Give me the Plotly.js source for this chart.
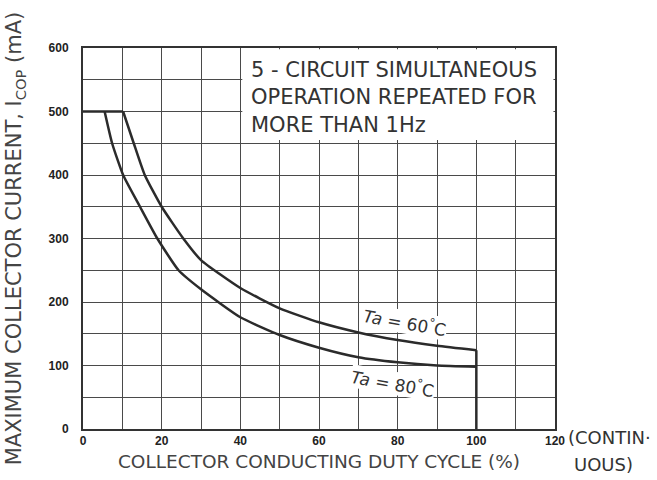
<!DOCTYPE html>
<html><head><meta charset="utf-8">
<script src="https://cdn.plot.ly/plotly-3.0.1.min.js"></script>
<style>body{margin:0;background:#fff}#c{width:657px;height:480px}</style>
</head><body><div id="c"></div>
<script>
// Data
const plateauCurrent = 500;
const dutyCycle60 = [10.2, 12.9, 15.7, 20, 25.5, 30, 40, 50, 60, 70, 80, 90, 100];
const current60   = [500, 450, 400, 350, 300, 266, 222, 190, 168, 152, 140, 131, 124];
const dutyCycle80 = [5.5, 7.4, 10.2, 14.5, 18.9, 24.3, 30, 40, 50, 60, 70, 80, 90, 100];
const current80   = [500, 450, 400, 350, 300, 250, 220, 176, 148, 128, 113, 105, 100, 98];
const xTickVals = [0, 20, 40, 60, 80, 100, 120];
const yTickVals = [0, 100, 200, 300, 400, 500, 600];
const labels = ['<i>Ta</i> = 60<sup>°</sup>C', '<i>Ta</i> = 80<sup>°</sup>C'];

const ink = '#2b2b2b';
const curveLine = {color: ink, width: 2.5, shape: 'spline', smoothing: 0.5};
const straight = {color: ink, width: 2.5};
const traces = [
  // shared 500 mA plateau
  {x: [0, dutyCycle60[0]], y: [plateauCurrent, plateauCurrent], mode: 'lines', line: straight, hoverinfo: 'skip'},
  {x: dutyCycle60, y: current60, mode: 'lines', line: curveLine, name: 'Ta = 60°C', hoverinfo: 'skip'},
  {x: dutyCycle80, y: current80, mode: 'lines', line: curveLine, name: 'Ta = 80°C', hoverinfo: 'skip'},
  // vertical cut-off at 100 %
  {x: [dutyCycle60[dutyCycle60.length - 1], dutyCycle60[dutyCycle60.length - 1]],
   y: [current60[current60.length - 1], 0], mode: 'lines', line: straight, hoverinfo: 'skip'}
];
const gridCol = '#4a4a4a';
const txtFont = 'DejaVu Sans, Liberation Sans, Arial, sans-serif';
const tickFont = {size: 12, color: '#222', family: 'Liberation Sans, Arial, sans-serif', weight: 'bold'};
const layout = {
  width: 657, height: 480, showlegend: false,
  paper_bgcolor: '#fff', plot_bgcolor: '#fff',
  margin: {l: 83, r: 102, t: 48, b: 51},
  font: {family: txtFont, color: '#333'},
  xaxis: {
    range: [0, 120], tickmode: 'array', tickvals: xTickVals,
    showgrid: true, gridcolor: gridCol, gridwidth: 1,
    minor: {dtick: 10, tick0: 0, showgrid: true, gridcolor: gridCol, gridwidth: 1},
    showline: true, mirror: true, linecolor: '#333', linewidth: 2, zeroline: false,
    ticks: '', tickfont: tickFont,
    title: {text: 'COLLECTOR CONDUCTING DUTY CYCLE (%)', font: {size: 18.5, color: '#444', family: txtFont}, standoff: 8}
  },
  yaxis: {
    range: [0, 600], tickmode: 'array', tickvals: yTickVals,
    showgrid: true, gridcolor: gridCol, gridwidth: 1,
    minor: {dtick: 50, tick0: 0, showgrid: true, gridcolor: gridCol, gridwidth: 1},
    showline: true, mirror: true, linecolor: '#333', linewidth: 2, zeroline: false,
    ticks: '', tickfont: tickFont, ticklabelstandoff: 10,
    title: {text: 'MAXIMUM COLLECTOR CURRENT, I<sub>COP</sub> (mA)', font: {size: 21, color: '#444', family: txtFont}, standoff: 21}
  },
  shapes: [
    {type: 'rect', xref: 'x', yref: 'y', x0: 40.5, x1: 119.6, y0: 455, y1: 598, fillcolor: '#fff', line: {width: 0}, layer: 'above'}
  ],
  annotations: [
    {xref: 'x', yref: 'y', x: 42.3, y: 588, xanchor: 'left', yanchor: 'top', align: 'left', showarrow: false,
     text: '5 - CIRCUIT SIMULTANEOUS<br>OPERATION REPEATED FOR<br>MORE THAN 1Hz', font: {size: 21, color: '#333'}},
    {xref: 'x', yref: 'y', x: 81.8, y: 168, showarrow: false, textangle: 10, text: labels[0],
     font: {size: 17, color: '#333'}, bgcolor: '#fff', borderpad: 0},
    {xref: 'x', yref: 'y', x: 78.8, y: 73, showarrow: false, textangle: 10, text: labels[1],
     font: {size: 17, color: '#333'}, bgcolor: '#fff', borderpad: 0},
    {xref: 'paper', yref: 'paper', x: 1.024, y: -0.021, xanchor: 'left', yanchor: 'middle', showarrow: false, align: 'left',
     text: '(CONTIN·', font: {size: 18, color: '#333'}},
    {xref: 'paper', yref: 'paper', x: 1.036, y: -0.094, xanchor: 'left', yanchor: 'middle', showarrow: false, align: 'left',
     text: 'UOUS)', font: {size: 18, color: '#333'}}
  ]
};
Plotly.newPlot('c', traces, layout, {staticPlot: true, displayModeBar: false});
</script></body></html>
